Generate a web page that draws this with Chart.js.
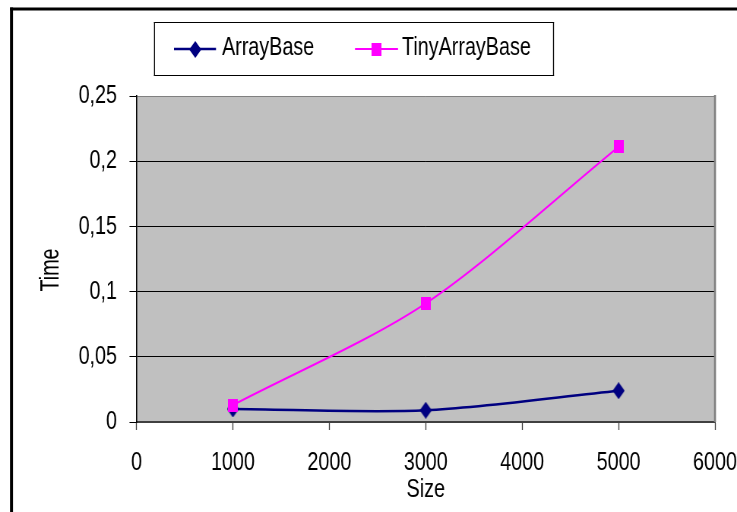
<!DOCTYPE html>
<html>
<head>
<meta charset="utf-8">
<script src="https://cdn.jsdelivr.net/npm/chart.js@4.4.0/dist/chart.umd.min.js"></script>
<style>
  html, body { margin: 0; padding: 0; background: #fff; overflow: hidden; }
  /* the drawing buffer is wider than the box, which gives the narrow lettering */
  #c { display: block; width: 737px; height: 512px; }
</style>
</head>
<body>
<canvas id="c" width="970" height="512" style="width:737px;height:512px"></canvas>
<script>
// Measured run times for the two array implementations
const sizes = [1000, 3000, 5000];
const arrayBase = [0.010, 0.009, 0.024];
const tinyArrayBase = [0.013, 0.091, 0.211];
const seriesNames = ['ArrayBase', 'TinyArrayBase'];

// Axis ticks and titles
const xTicks = [0, 1000, 2000, 3000, 4000, 5000, 6000];
const yTicks = [0, 0.05, 0.1, 0.15, 0.2, 0.25];
const yTickLabels = ['0', '0,05', '0,1', '0,15', '0,2', '0,25'];
const xTitle = 'Size';
const yTitle = 'Time';

const FONT = "'Liberation Sans', Arial, sans-serif";
const FONT_SIZE = 26;
const NAVY = '#000080';
const MAGENTA = '#ff00ff';
const PLOT_BG = '#c0c0c0';

// horizontal squeeze between the canvas buffer and its on-screen box
const SX = 737 / 970;
const X = v => v / SX;   // on-screen x -> buffer x

// Small bitmap markers: a tall diamond and a slightly tall square
function markerCanvas(kind, color) {
  const c = document.createElement('canvas');
  const g = c.getContext('2d');
  if (kind === 'diamond') {
    c.width = Math.round(X(12)); c.height = 17;
    g.fillStyle = color;
    const w = c.width;
    g.beginPath();
    g.moveTo(w / 2, 0); g.lineTo(w, 8.5); g.lineTo(w / 2, 17); g.lineTo(0, 8.5);
    g.closePath(); g.fill();
  } else {
    c.width = Math.round(X(10)); c.height = 13;
    g.fillStyle = color;
    g.fillRect(0, 0, c.width, 13);
  }
  return c;
}
const diamond = markerCanvas('diamond', NAVY);
const square = markerCanvas('square', MAGENTA);

// Background, outer frame, plot-area fill, legend and vertical axis title
const framePlugin = {
  id: 'frame',
  beforeDraw(chart) {
    const { ctx, chartArea: a } = chart;
    ctx.save();
    ctx.fillStyle = '#ffffff';
    ctx.fillRect(0, 0, chart.width, chart.height);
    ctx.fillStyle = '#000000';
    ctx.fillRect(X(10), 7.5, chart.width, 3);
    ctx.fillRect(X(10), 7.5, X(3), chart.height);
    ctx.fillStyle = PLOT_BG;
    ctx.fillRect(a.left, a.top, a.right - a.left, a.bottom - a.top);
    ctx.restore();
  },
  beforeDatasetsDraw(chart) {
    const { ctx, chartArea: a } = chart;
    ctx.save();
    ctx.fillStyle = '#808080';
    ctx.fillRect(a.right - X(1), a.top - 1, X(2), a.bottom - a.top + 1);
    ctx.restore();
  },
  afterDraw(chart) {
    const { ctx } = chart;
    ctx.save();
    ctx.font = FONT_SIZE + 'px ' + FONT;
    ctx.fillStyle = '#000';
    ctx.textAlign = 'center';
    ctx.textBaseline = 'middle';
    ctx.translate(X(51), 270);
    ctx.scale(1 / SX, SX);
    ctx.rotate(-Math.PI / 2);
    ctx.fillText(yTitle, 0, 0);
    ctx.restore();

    // legend box
    ctx.save();
    ctx.fillStyle = '#000';
    const bx0 = X(154), bx1 = X(554), by0 = 22, by1 = 75;
    ctx.fillRect(bx0, by0, bx1 - bx0, 1);
    ctx.fillRect(bx0, by1, bx1 - bx0, 1);
    ctx.fillRect(bx0, by0, X(1), by1 - by0 + 1);
    ctx.fillRect(bx1 - X(1), by0, X(1), by1 - by0 + 1);
    const items = [
      { x0: 174, x1: 216, tx: 222, ds: chart.data.datasets[0] },
      { x0: 355, x1: 398, tx: 402, ds: chart.data.datasets[1] }
    ];
    ctx.font = FONT_SIZE + 'px ' + FONT;
    ctx.textAlign = 'left';
    ctx.textBaseline = 'middle';
    items.forEach(it => {
      ctx.strokeStyle = it.ds.borderColor;
      ctx.lineWidth = it.ds.borderWidth;
      ctx.beginPath();
      ctx.moveTo(X(it.x0), 49);
      ctx.lineTo(X(it.x1), 49);
      ctx.stroke();
      const img = it.ds.pointStyle;
      ctx.drawImage(img, Math.round(X((it.x0 + it.x1) / 2) - img.width / 2), Math.round(49 - img.height / 2));
      ctx.fillStyle = '#000';
      ctx.fillText(it.ds.label, X(it.tx), 47.5);
    });
    ctx.restore();
  }
};

new Chart(document.getElementById('c'), {
  type: 'line',
  data: {
    datasets: [
      {
        label: seriesNames[0],
        data: sizes.map((s, i) => ({ x: s, y: arrayBase[i] })),
        borderColor: NAVY,
        backgroundColor: NAVY,
        borderWidth: 2.5,
        pointStyle: diamond,
        tension: 0.3,
        order: 1
      },
      {
        label: seriesNames[1],
        data: sizes.map((s, i) => ({ x: s, y: tinyArrayBase[i] })),
        borderColor: MAGENTA,
        backgroundColor: MAGENTA,
        borderWidth: 2,
        pointStyle: square,
        tension: 0.3,
        order: 0
      }
    ]
  },
  options: {
    responsive: false,
    devicePixelRatio: 1,
    animation: false,
    layout: { padding: { left: 0, right: X(22), top: 96, bottom: 0 } },
    plugins: { legend: { display: false }, tooltip: { enabled: false } },
    scales: {
      x: {
        type: 'linear',
        min: 0,
        max: 6000,
        afterBuildTicks: s => { s.ticks = xTicks.map(v => ({ value: v })); },
        afterFit: s => { s.height = 90; s.paddingLeft = 0; s.paddingRight = 0; },
        grid: { drawOnChartArea: false, tickLength: 8, tickColor: '#404040', tickWidth: X(1) },
        border: { color: '#404040', width: 2 },
        ticks: {
          color: '#000',
          font: { family: FONT, size: FONT_SIZE },
          padding: 17,
          maxRotation: 0,
          callback: v => String(v)
        },
        title: {
          display: true,
          text: xTitle,
          color: '#000',
          font: { family: FONT, size: FONT_SIZE },
          padding: { top: 0, bottom: 7 }
        }
      },
      y: {
        type: 'linear',
        min: 0,
        max: 0.25,
        afterBuildTicks: s => { s.ticks = yTicks.map(v => ({ value: v })); },
        afterFit: s => { s.width = X(136.5); s.paddingTop = 0; s.paddingBottom = 0; },
        grid: {
          color: c => c.tick.value === 0 ? 'rgba(0,0,0,0)' : (c.tick.value === 0.25 ? '#808080' : '#000000'),
          tickColor: '#000',
          tickLength: X(7),
          lineWidth: 1
        },
        border: { color: '#000', width: X(1.2) },
        ticks: {
          color: '#000',
          font: { family: FONT, size: FONT_SIZE },
          padding: X(12.5),
          callback: v => yTickLabels[yTicks.indexOf(v)]
        }
      }
    }
  },
  plugins: [framePlugin]
});
</script>
</body>
</html>
